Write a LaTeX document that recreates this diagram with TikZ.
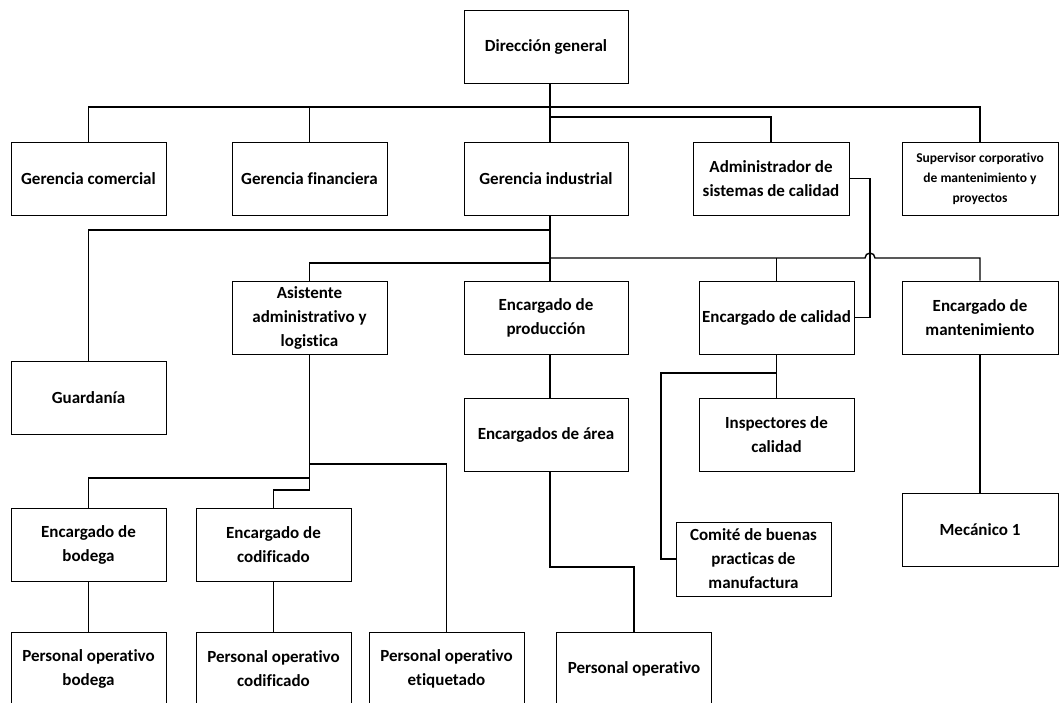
\documentclass[tikz,border=0pt]{standalone}
\usepackage{fontspec}
\setmainfont[Ligatures=NoCommon]{Carlito}
\usetikzlibrary{positioning}

\tikzset{
  box/.style={draw, line width=0.9pt, minimum width=155pt, minimum height=73pt,
    align=center, inner sep=2pt, font=\fontsize{17}{24}\selectfont\bfseries},
  wide/.style={box, minimum width=164pt},
  link/.style={line width=1.4pt}
}

\begin{document}
\begin{tikzpicture}[x=1pt, y=-1pt]
\useasboundingbox (0,0) rectangle (1060,702);

% top level
\node[wide] (dir) at (546,46.5) {Dirección general};

% gerencias
\node[box] (gcom) at (88.5,178.5) {Gerencia comercial};
\node[box] (gfin) at (309.5,178.5) {Gerencia financiera};
\node[wide] (gind) at (546,178.5) {Gerencia industrial};
\node[box, minimum width=156pt] (adm) at (771,178.5) {Administrador de\\sistemas de calidad};
\node[box, minimum width=156pt, font=\fontsize{13.5}{20}\selectfont\bfseries] (sup) at (980,178.5) {Supervisor corporativo\\de mantenimiento y\\proyectos};

% encargados
\node[box] (guard) at (88.5,397.5) {Guardanía};
\node[box] (asist) at (309.5,317.5) {Asistente\\administrativo y\\logistica};
\node[wide] (eprod) at (546,317.5) {Encargado de\\producción};
\node[box] (ecal) at (776.5,317.5) {Encargado de calidad};
\node[box, minimum width=156pt] (emant) at (980,317.5) {Encargado de\\mantenimiento};

% third level
\node[wide] (earea) at (546,435) {Encargados de área};
\node[box] (insp) at (776.5,435) {Inspectores de\\calidad};
\node[box, minimum height=74pt] (comite) at (753.5,559) {Comité de buenas\\practicas de\\manufactura};
\node[box, minimum width=156pt] (mec) at (980,530) {Mecánico 1};
\node[box] (ebod) at (88.5,544.5) {Encargado de\\bodega};
\node[box] (ecod) at (273.5,544.5) {Encargado de\\codificado};

% personal operativo (bottom row)
\node[box] (pbod) at (88.5,668.5) {Personal operativo\\bodega};
\node[box] (pcod) at (273.5,668.5) {Personal operativo\\codificado};
\node[box] (peti) at (446.5,668.5) {Personal operativo\\etiquetado};
\node[box] (pop) at (634,668.5) {Personal operativo};

% bus points
\coordinate (spine) at (550,0);
\coordinate (b1) at (550,107);
\coordinate (b2) at (550,117);
\coordinate (b3) at (550,230);
\coordinate (b5) at (550,258);
\coordinate (b4) at (550,263);
\coordinate (hop) at (870,258);
\coordinate (qk) at (661,373);
\coordinate (pk) at (550,567);
\coordinate (ak1) at (309.5,464);
\coordinate (ak2) at (309.5,478);
\coordinate (ak3) at (309.5,490);

% direccion to gerencias
\draw[link] (dir.south -| spine) -- (gind.north -| spine);
\draw[link] (gcom.north) |- (b1) -| (sup.north);
\draw[link] (gfin.north) -- (gfin.north |- b1);
\draw[link] (b2) -| (adm.north);

% gerencia industrial
\draw[link] (gind.south -| spine) -- (eprod.north -| spine);
\draw[link] (guard.north) |- (b3);
\draw[link] (asist.north) |- (b4);
\draw[link] (b5) -- ([xshift=-5]hop) arc[start angle=180, end angle=360, radius=5] -| (emant.north);
\draw[link] (ecal.north) -- (ecal.north |- b5);
\draw[link] (adm.east) -| (hop) -- (hop |- ecal.east) -- (ecal.east);

% calidad
\draw[link] (ecal.south) -- (insp.north);
\draw[link] (ecal.south |- qk) -- (qk) |- (comite.west);

% produccion
\draw[link] (eprod.south -| spine) -- (earea.north -| spine);
\draw[link] (earea.south -| spine) -- (pk) -| (pop.north);

% mantenimiento
\draw[link] (emant.south) -- (mec.north);

% asistente
\draw[link] (asist.south) -- (ak3);
\draw[link] (ak1) -| (peti.north);
\draw[link] (ak2) -| (ebod.north);
\draw[link] (ak3) -| (ecod.north);
\draw[link] (ebod.south) -- (pbod.north);
\draw[link] (ecod.south) -- (pcod.north);

\end{tikzpicture}
\end{document}
